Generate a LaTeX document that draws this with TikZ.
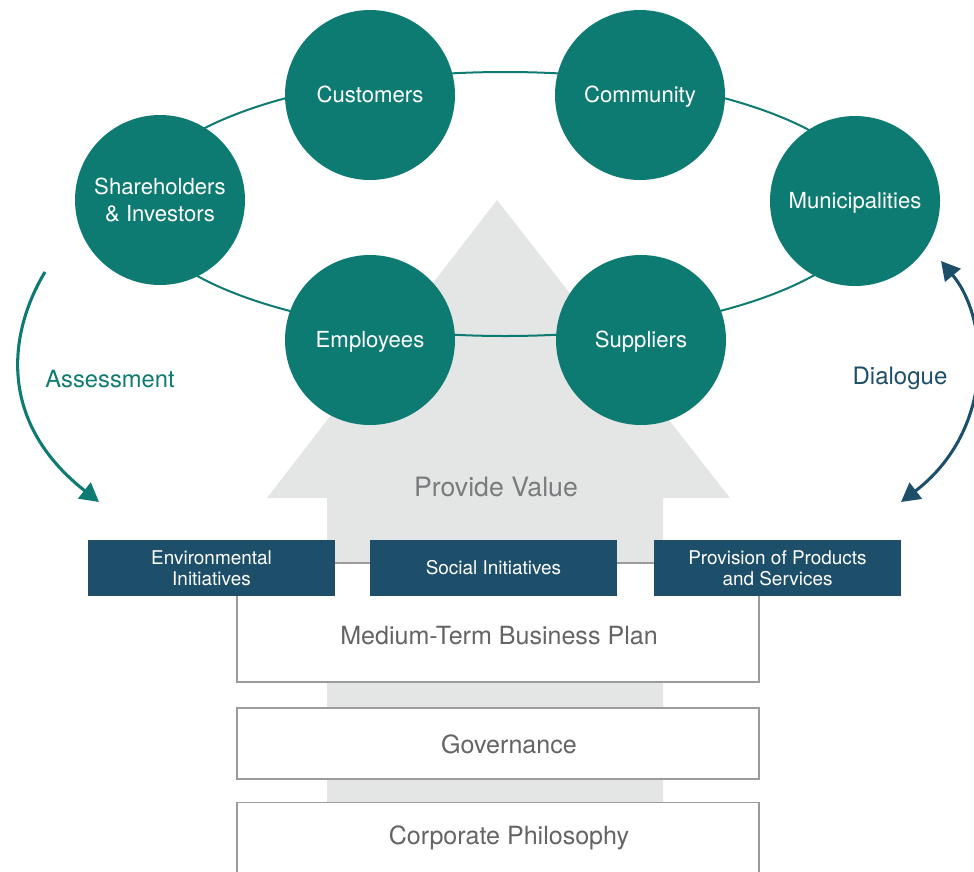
\documentclass[tikz,border=0pt]{standalone}
\usepackage{fontspec}
\setmainfont{TeX Gyre Heros}
\usetikzlibrary{arrows.meta}

\definecolor{teal}{HTML}{0E7B73}
\definecolor{navy}{HTML}{1D4F6B}
\definecolor{lightgray}{HTML}{E4E5E5}
\definecolor{framegray}{HTML}{9B9B9B}
\definecolor{textgray}{HTML}{636466}

\tikzset{
  stakeholder/.style={circle, fill=teal, minimum size=127.5pt, inner sep=0pt,
    text=white, align=center, font=\fontsize{16.6}{20}\selectfont},
  oneline/.style={text height=11.6pt, text depth=0pt},
  initiative/.style={rectangle, fill=navy, minimum width=185pt, minimum height=42pt,
    inner sep=0pt, text=white, align=center, font=\fontsize{14.2}{16}\selectfont},
  layer/.style={rectangle, draw=framegray, line width=0.9pt, fill=white, minimum width=391.5pt,
    inner sep=0pt},
  layertext/.style={text=textgray, font=\fontsize{18.8}{22}\selectfont},
  bigarrow/.style={line width=2.3pt, -{Triangle[length=14pt,width=15pt]}},
}

\begin{document}
\begin{tikzpicture}[x=0.75pt, y=-0.75pt]

\useasboundingbox (0,0) rectangle (974,871);

% value arrow in the background
\fill[lightgray] (497,200) -- (730,498) -- (663,498) -- (663,803) -- (327,803)
  -- (327,498) -- (267,498) -- cycle;
\node[text=textgray!85, font=\fontsize{20}{22}\selectfont] (value) at (496,487) {Provide Value};

% stakeholder ring
\draw[teal, line width=1.5pt] (505,204) ellipse [x radius=367, y radius=132];

\node[stakeholder] (share) at (160,200) {Shareholders\\\& Investors};
\node[stakeholder, oneline] (cust)  at (370,95)  {Customers};
\node[stakeholder, oneline] (comm)  at (640,95)  {Community};
\node[stakeholder, oneline] (muni)  at (855,201) {Municipalities};
\node[stakeholder, oneline] (empl)  at (370,340) {Employees};
\node[stakeholder, oneline] (supp)  at (641,340) {Suppliers};

% foundation layers
\node[layer, minimum height=89.25pt] (plan) at (498,622.5) {};
\node[layer, minimum height=53.25pt] (gov)  at (498,743.5) {};
\node[layer, minimum height=75pt, anchor=north] (phil) at (498,802) {};
\node[layertext] (plantext) at (499,636) {Medium-Term Business Plan};
\node[layertext] (govtext)  at (509,744) {Governance};
\node[layertext] (philtext) at (509,838) {Corporate Philosophy};

% initiatives
\node[initiative] (env)  at (211.5,568) {Environmental\\Initiatives};
\node[initiative] (soc)  at (493.5,568) {Social Initiatives};
\node[initiative] (prov) at (777.5,568) {Provision of Products\\and Services};

% assessment and dialogue
\coordinate (assfrom) at (45,272);
\coordinate (assto)   at (99,502);
\coordinate (dialtop) at (941,261);
\coordinate (dialbot) at (901,502);

\draw[bigarrow, teal] (assfrom) .. controls (10,330) and (-5,420) .. (assto);
\draw[bigarrow, navy, {Triangle[length=14pt,width=15pt]}-{Triangle[length=14pt,width=15pt]}]
  (dialtop) .. controls (990,320) and (995,430) .. (dialbot);

\node[text=teal, font=\fontsize{17.8}{20}\selectfont] (assess) at (110,379) {Assessment};
\node[text=navy, font=\fontsize{18}{20}\selectfont] (dial)   at (900,378) {Dialogue};

\end{tikzpicture}
\end{document}
